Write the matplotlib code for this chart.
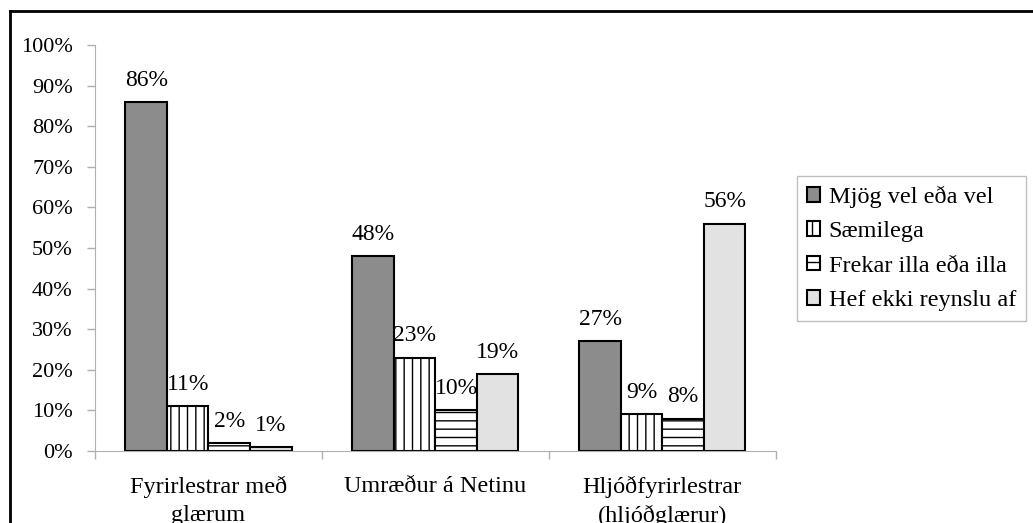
import matplotlib
matplotlib.use('Agg')
import matplotlib.pyplot as plt
import numpy as np
from matplotlib.lines import Line2D

categories = ['Fyrirlestrar með\nglærum', 'Umræður á Netinu', 'Hljóðfyrirlestrar\n(hljóðglærur)']
series = ['Mjög vel eða vel', 'Sæmilega', 'Frekar illa eða illa', 'Hef ekki reynslu af']
values = [
    [86, 48, 27],
    [11, 23, 9],
    [2, 10, 8],
    [1, 19, 56],
]
colors = ['#8c8c8c', 'white', 'white', '#e2e2e2']
hatches = ['', '||', '--', '']

plt.rcParams['font.family'] = ['Liberation Serif', 'DejaVu Serif']
plt.rcParams['hatch.linewidth'] = 1.0
plt.rcParams['hatch.color'] = 'black'

fig = plt.figure(figsize=(10.33, 5.23), dpi=100)
ax = fig.add_axes([0.092, 0.1377, 0.659, 0.776])

x = np.arange(len(categories))
width = 0.183
for i in range(len(series)):
    pos = x + (i - 1.5) * width
    bars = ax.bar(pos, values[i], width, color=colors[i], hatch=hatches[i],
                  edgecolor='black', linewidth=1.5, label=series[i])
    for b, v in zip(bars, values[i]):
        ax.text(b.get_x() + b.get_width() / 2, v + 2.8, '%d%%' % v,
                ha='center', va='bottom', fontsize=17)

ax.set_xlim(-0.5, 2.5)
ax.set_ylim(0, 100)
ax.set_yticks(np.arange(0, 101, 10))
ax.set_yticklabels(['%d%%' % t for t in range(0, 101, 10)], fontsize=16)
ax.set_xticks([-0.5, 0.5, 1.5, 2.5])
ax.set_xticklabels([])
ax.set_xticks(x, minor=True)
ax.set_xticklabels(categories, minor=True, fontsize=17.5, linespacing=1.4)
ax.tick_params(axis='x', which='minor', length=0, pad=18)
ax.tick_params(axis='both', which='major', color='#b0b0b0', length=6, width=1)
ax.tick_params(axis='y', pad=10)
for s in ['top', 'right']:
    ax.spines[s].set_visible(False)
for s in ['left', 'bottom']:
    ax.spines[s].set_color('#b0b0b0')

leg = ax.legend(loc='upper left', bbox_to_anchor=(797 / 1033, 1 - 176 / 523), bbox_transform=fig.transFigure,
                borderaxespad=0, fontsize=17.5, frameon=True, fancybox=False, edgecolor='#b0b0b0',
                handlelength=0.55, handleheight=0.55, handletextpad=0.35,
                labelspacing=0.55, borderpad=0.4)
leg.get_frame().set_linewidth(1.0)

# outer border of the chart area
fig.add_artist(Line2D([10 / 1033, 1.0], [1 - 11 / 523, 1 - 11 / 523], color='black', linewidth=2,
                      transform=fig.transFigure))
fig.add_artist(Line2D([10 / 1033, 10 / 1033], [0, 1 - 11 / 523], color='black', linewidth=2,
                      transform=fig.transFigure))

fig.savefig('out.png', dpi=100)
